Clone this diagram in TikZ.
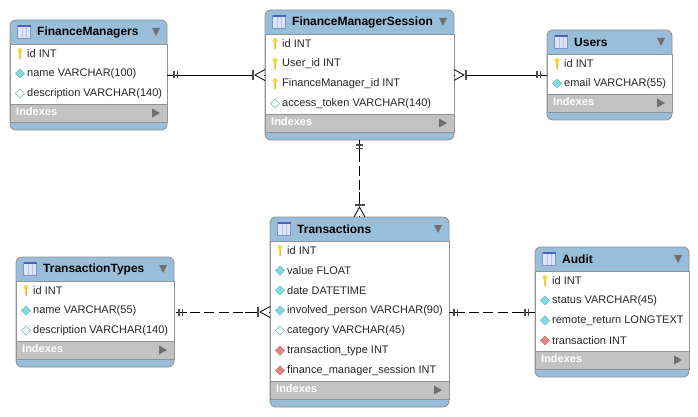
\documentclass[tikz,border=0pt]{standalone}
\usepackage{fontspec}
\setmainfont{Liberation Sans}
\usetikzlibrary{decorations.markings}
\definecolor{headblue}{HTML}{98BED9}
\definecolor{framegray}{HTML}{8F9397}
\definecolor{indexgray}{HTML}{C2C2C2}
\definecolor{arrowgray}{HTML}{707070}
\definecolor{nncyan}{HTML}{7EDDE2}
\definecolor{nulledge}{HTML}{6FB8BE}
\definecolor{fkred}{HTML}{E58484}
\definecolor{keyyellow}{HTML}{F8D640}
\definecolor{keyshade}{HTML}{E8A820}
\definecolor{iconedge}{HTML}{7F93C4}
\definecolor{icontop}{HTML}{4A5FC4}
\definecolor{iconfill}{HTML}{DCE5F6}
\definecolor{icongrid}{HTML}{B4C4E6}
\tikzset{
    tablebox/.style={draw=framegray, line width=0.9pt, fill=headblue, rounded corners=6pt, outer sep=0pt, inner sep=0pt, anchor=north west},
    titletext/.style={anchor=west, inner sep=0pt, font=\fontsize{12}{14}\selectfont\bfseries},
    rowtext/.style={anchor=west, inner sep=0pt, text=black!85, font=\fontsize{11}{13}\selectfont},
    indextext/.style={anchor=west, inner sep=0pt, text=white, font=\fontsize{11}{13}\selectfont\bfseries},
    link/.style={line width=0.9pt, black},
    dashlink/.style={link, dash pattern=on 10pt off 4.3pt, dash phase=#1},
    twobars/.style args={#1 from #2 to #3}{postaction={decorate, decoration={markings, mark=at position #1 with {
        \draw[solid, line width=0.9pt] (#2,0) -- (#3,0);
        \draw[solid, line width=1.1pt, black!70] (0,-3.5pt) -- (0,3.5pt);
        \draw[solid, line width=1.1pt, black!70] (3.5pt,-3.5pt) -- (3.5pt,3.5pt);}}}},
    footend/.style={postaction={decorate, decoration={markings, mark=at position -12pt with {
        \draw[solid, line width=0.9pt] (-13pt,0) -- (0,0);
        \draw[solid, white, line width=1.4pt] (0.8pt,0) -- (11.4pt,0);
        \draw[solid, line width=1.2pt, black!70] (0,-5pt) -- (0,5pt);
        \draw[solid, line width=0.8pt] (12pt,-5.5pt) -- (2pt,0) -- (12pt,5.5pt);}}}},
    footstart/.style={postaction={decorate, decoration={markings, mark=at position 12pt with {
        \draw[solid, white, line width=1.4pt] (-0.8pt,0) -- (-11.4pt,0);
        \draw[solid, line width=1.2pt, black!70] (0,-5pt) -- (0,5pt);
        \draw[solid, line width=0.8pt] (-12pt,-5.5pt) -- (-2pt,0) -- (-12pt,5.5pt);}}}},
    pics/key/.style={code={
        \fill[keyyellow] (-1,-2) -- (1,-2) -- (0.8,5.5) -- (-0.8,5.5) -- cycle;
        \fill[keyyellow] (0,-3) circle (2.4);
        \fill[keyshade] (0.3,-1) -- (1,-1) -- (0.8,5.5) -- (0.3,5.5) -- cycle;
    }},
    pics/nn/.style={code={
        \draw[nulledge, fill=nncyan, line width=0.5pt] (-4.5,0) -- (0,-4.5) -- (4.5,0) -- (0,4.5) -- cycle;
    }},
    pics/null/.style={code={
        \draw[nulledge, fill=white, line width=0.7pt] (-4.5,0) -- (0,-4.5) -- (4.5,0) -- (0,4.5) -- cycle;
    }},
    pics/fk/.style={code={
        \draw[fkred!85!black, fill=fkred, line width=0.5pt] (-4.5,0) -- (0,-4.5) -- (4.5,0) -- (0,4.5) -- cycle;
    }},
}
% name, left, top, width, rows, title, fields
\newcommand{\erdtable}[7]{
    \node[tablebox, minimum width=#4pt, minimum height={50pt+20pt*#5}] (#1) at (#2,#3) {};
    % Title bar
    \draw[iconedge, fill=iconfill, line width=0.8pt] ({#2+7.5},{#3+5.5}) rectangle ({#2+20.5},{#3+18.5});
    \foreach \g in {12,16} {
        \draw[icongrid, line width=0.6pt] ({#2+\g},{#3+7}) -- ({#2+\g},{#3+18});
    }
    \draw[icontop, line width=1.2pt] ({#2+7.5},{#3+6}) -- ({#2+20.5},{#3+6});
    \node[titletext] (#1-title) at ({#2+27},{#3+12.5}) {#6};
    \fill[arrowgray] ({#2+#4-15},{#3+8}) -- ({#2+#4-7},{#3+8}) -- ({#2+#4-11},{#3+16}) -- cycle;
    % Fields
    \draw[framegray, fill=white, line width=0.9pt] (#2,{#3+24}) rectangle ({#2+#4},{#3+24+20*#5});
    \foreach \kind/\field [count=\r] in {#7} {
        \pic at ({#2+10},{#3+13.5+20*\r}) {\kind};
        \node[rowtext] (#1-row\r) at ({#2+17},{#3+14+20*\r}) {\field};
    }
    % Indexes bar
    \draw[framegray, fill=indexgray, line width=0.9pt] (#2,{#3+24+20*#5}) rectangle ({#2+#4},{#3+42+20*#5});
    \node[indextext] (#1-indexes) at ({#2+6},{#3+32+20*#5}) {Indexes};
    \fill[arrowgray] ({#2+#4-15},{#3+28.5+20*#5}) -- ({#2+#4-7},{#3+33+20*#5}) -- ({#2+#4-15},{#3+37.5+20*#5}) -- cycle;
}

\begin{document}
\begin{tikzpicture}[x=1pt, y=-1pt]
    \useasboundingbox (0,0) rectangle (698,417);

    % Tables
    \erdtable{managers}{10}{20}{157}{3}{FinanceManagers}{key/{id INT}, nn/{name VARCHAR(100)}, null/{description VARCHAR(140)}}
    \erdtable{session}{265}{10}{189}{4}{FinanceManagerSession}{key/{id INT}, key/{User\_id INT}, key/{FinanceManager\_id INT}, null/{access\_token VARCHAR(140)}}
    \erdtable{users}{547}{30}{125}{2}{Users}{key/{id INT}, nn/{email VARCHAR(55)}}
    \erdtable{types}{16}{257}{158}{3}{TransactionTypes}{key/{id INT}, nn/{name VARCHAR(55)}, null/{description VARCHAR(140)}}
    \erdtable{transactions}{270}{217}{179}{7}{Transactions}{key/{id INT}, nn/{value FLOAT}, nn/{date DATETIME}, nn/{involved\_person VARCHAR(90)}, null/{category VARCHAR(45)}, fk/{transaction\_type INT}, fk/{finance\_manager\_session INT}}
    \erdtable{audit}{535}{247}{154}{4}{Audit}{key/{id INT}, nn/{status VARCHAR(45)}, nn/{remote\_return LONGTEXT}, fk/{transaction INT}}

    % Relations
    \draw[link, twobars=7pt from -1pt to 4pt, footend] (managers.east) -- (session.west);
    \draw[link, footstart, twobars=-10pt from -1pt to 4pt] (session.east) -- (users.west);
    \draw[dashlink=2.6pt, twobars=5pt from -5pt to 17pt, footend] (session.south) -- (transactions.north);
    \draw[dashlink=12.5pt, twobars=5pt from -1pt to 8pt, footend] (types.east) -- (transactions.west);
    \draw[dashlink=8.6pt, twobars=5pt from -5pt to 11pt, twobars=-10pt from -13pt to 10pt] (transactions.east) -- (audit.west);
\end{tikzpicture}
\end{document}
